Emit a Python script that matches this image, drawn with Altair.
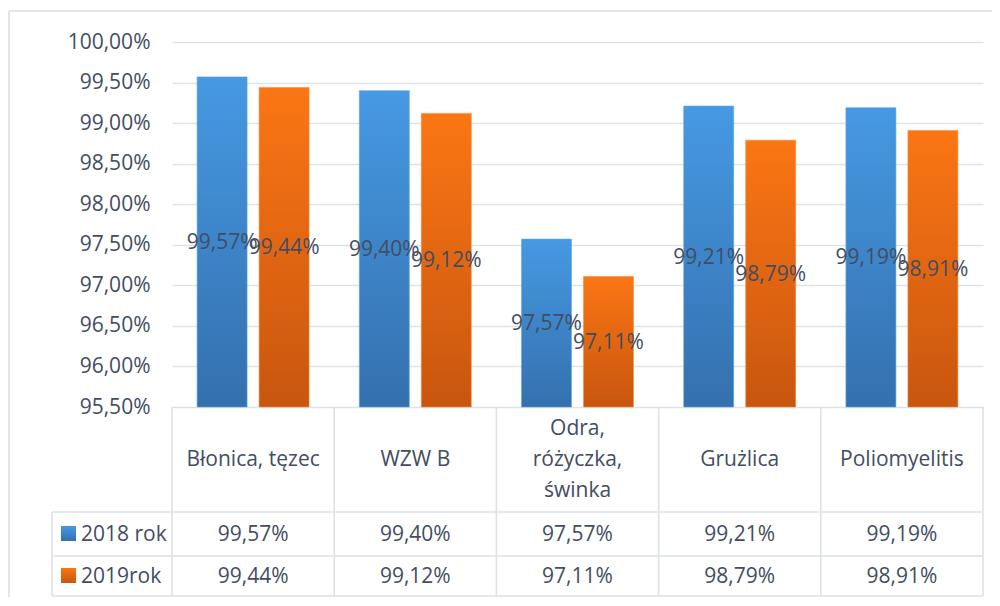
import altair as alt
import pandas as pd

categories = ["Błonica, tęzec", "WZW B", "Odra,\nróżyczka,\nświnka", "Grużlica", "Poliomyelitis"]
years = ["2018 rok", "2019rok"]
values_2018 = [99.57, 99.40, 97.57, 99.21, 99.19]
values_2019 = [99.44, 99.12, 97.11, 98.79, 98.91]
y_ticks = [95.5, 96.0, 96.5, 97.0, 97.5, 98.0, 98.5, 99.0, 99.5, 100.0]
y_min, y_max = 95.5, 100.0

FONT = "Open Sans"
TXT = "#424d62"
LINE = "#dde2e9"
FS = 21
LH = 31


def fmt(v):
    return f"{v:.2f}".replace(".", ",") + "%"


rows = []
for c, a, b in zip(categories, values_2018, values_2019):
    rows.append({"cat": c, "year": years[0], "value": a, "label": fmt(a)})
    rows.append({"cat": c, "year": years[1], "value": b, "label": fmt(b)})
df = pd.DataFrame(rows)
df["mid"] = (df["value"] + y_min) / 2
df["base"] = y_min

cat_df = pd.DataFrame({"cat": categories})
cat_df["lines"] = cat_df["cat"].str.count("\n") + 1
one = pd.DataFrame({"k": [0]})

W, H = 811, 365

blue = alt.Gradient(gradient="linear",
                    stops=[alt.GradientStop(color="#4699e3", offset=0),
                           alt.GradientStop(color="#3470ae", offset=1)],
                    x1=0, x2=0, y1=0, y2=1)
orange = alt.Gradient(gradient="linear",
                      stops=[alt.GradientStop(color="#fb7614", offset=0),
                             alt.GradientStop(color="#c8560f", offset=1)],
                      x1=0, x2=0, y1=0, y2=1)

xenc = alt.X("cat:N", scale=alt.Scale(domain=categories, paddingInner=0, paddingOuter=0), axis=None)
xoff = alt.XOffset("year:N", scale=alt.Scale(domain=years, paddingInner=0.1935, paddingOuter=0.405))
yscale = alt.Scale(domain=[y_min, y_max], zero=False, nice=False, clamp=True)

base = alt.Chart(df)

bars_2018 = base.transform_filter(alt.datum.year == years[0]).mark_bar(color=blue, stroke="#5aa6e8", strokeWidth=0.6).encode(
    x=xenc, xOffset=xoff,
    y=alt.Y("value:Q", scale=yscale,
            axis=alt.Axis(values=y_ticks, title=None, domain=False, ticks=False,
                          labelExpr="replace(format(datum.value, '.2f'), '.', ',') + '%'",
                          labelFont=FONT, labelFontSize=FS, labelColor=TXT, labelPadding=22,
                          grid=True, gridColor=LINE, gridWidth=1.6)),
    y2=alt.Y2("base:Q"),
)
bars_2019 = base.transform_filter(alt.datum.year == years[1]).mark_bar(color=orange, stroke="#fd8a3a", strokeWidth=0.6).encode(
    x=xenc, xOffset=xoff,
    y=alt.Y("value:Q", scale=yscale),
    y2=alt.Y2("base:Q"),
)

bar_labels = base.mark_text(font=FONT, fontSize=FS, color=TXT, baseline="middle", align="center", dy=1).encode(
    x=xenc, xOffset=xoff,
    y=alt.Y("mid:Q", scale=yscale),
    text="label:N",
)

# table rows (y positions relative to plot area)
ROW_TOP = H          # 365
ROW_HDR = 470
ROW_1 = 514
ROW_2 = 554
LEFT = -120
HDR_MID = (ROW_TOP + ROW_HDR) / 2

header_single = alt.Chart(cat_df).transform_filter(alt.datum.lines == 1).mark_text(
    font=FONT, fontSize=FS, color=TXT, baseline="middle", align="center").encode(
    x=xenc, y=alt.value(HDR_MID), text="cat:N")
header_multi = alt.Chart(cat_df).transform_filter(alt.datum.lines == 3).mark_text(
    font=FONT, fontSize=FS, color=TXT, baseline="middle", align="center",
    lineBreak="\n", lineHeight=LH).encode(
    x=xenc, y=alt.value(HDR_MID - LH), text="cat:N")

row1_text = base.transform_filter(alt.datum.year == years[0]).mark_text(
    font=FONT, fontSize=FS, color=TXT, baseline="middle", align="center").encode(
    x=xenc, y=alt.value((ROW_HDR + ROW_1) / 2 + 1), text="label:N")
row2_text = base.transform_filter(alt.datum.year == years[1]).mark_text(
    font=FONT, fontSize=FS, color=TXT, baseline="middle", align="center").encode(
    x=xenc, y=alt.value((ROW_1 + ROW_2) / 2 + 1), text="label:N")

# vertical table lines at band starts
vlines = alt.Chart(cat_df).mark_rule(color=LINE, strokeWidth=1.6).encode(
    x=alt.X("cat:N", scale=alt.Scale(domain=categories, paddingInner=0, paddingOuter=0), axis=None, bandPosition=0),
    y=alt.value(ROW_TOP), y2=alt.value(ROW_2))
vline_right = alt.Chart(one).mark_rule(color=LINE, strokeWidth=1.6).encode(
    x=alt.value(W), y=alt.value(ROW_TOP), y2=alt.value(ROW_2))
vline_left = alt.Chart(one).mark_rule(color=LINE, strokeWidth=1.6).encode(
    x=alt.value(LEFT), y=alt.value(ROW_HDR), y2=alt.value(ROW_2))
hlines = [alt.Chart(one).mark_rule(color=LINE, strokeWidth=1.6).encode(
    x=alt.value(LEFT), x2=alt.value(W), y=alt.value(yy)) for yy in (ROW_HDR, ROW_1, ROW_2)]

# legend keys in the table
key1 = alt.Chart(one).mark_rect(color=blue).encode(
    x=alt.value(-111), x2=alt.value(-96), y=alt.value(484), y2=alt.value(499))
key2 = alt.Chart(one).mark_rect(color=orange).encode(
    x=alt.value(-111), x2=alt.value(-96), y=alt.value(526), y2=alt.value(541))
key1_text = alt.Chart(one).mark_text(text=years[0], font=FONT, fontSize=FS, color=TXT,
                                     align="left", baseline="middle").encode(
    x=alt.value(-91), y=alt.value((ROW_HDR + ROW_1) / 2 + 1))
key2_text = alt.Chart(one).mark_text(text=years[1], font=FONT, fontSize=FS, color=TXT,
                                     align="left", baseline="middle").encode(
    x=alt.value(-91), y=alt.value((ROW_1 + ROW_2) / 2 + 1))

# outer chart border
border_left = alt.Chart(one).mark_rule(color="#d9dde3", strokeWidth=1.5).encode(
    x=alt.value(-163), y=alt.value(-31), y2=alt.value(560))
border_top = alt.Chart(one).mark_rule(color="#d9dde3", strokeWidth=1.5).encode(
    x=alt.value(-163), x2=alt.value(840), y=alt.value(-31))

chart = alt.layer(
    border_left, border_top,
    bars_2018, bars_2019, bar_labels,
    vlines, vline_right, vline_left, *hlines,
    header_single, header_multi, row1_text, row2_text,
    key1, key2, key1_text, key2_text,
).properties(
    width=W, height=H,
    padding={"left": 164, "top": 34, "right": 9, "bottom": 190},
    autosize=alt.AutoSizeParams(type="none"),
    background="white",
).configure_view(strokeWidth=0)

chart.save("out.html", embed_options={"renderer": "svg", "actions": False})
